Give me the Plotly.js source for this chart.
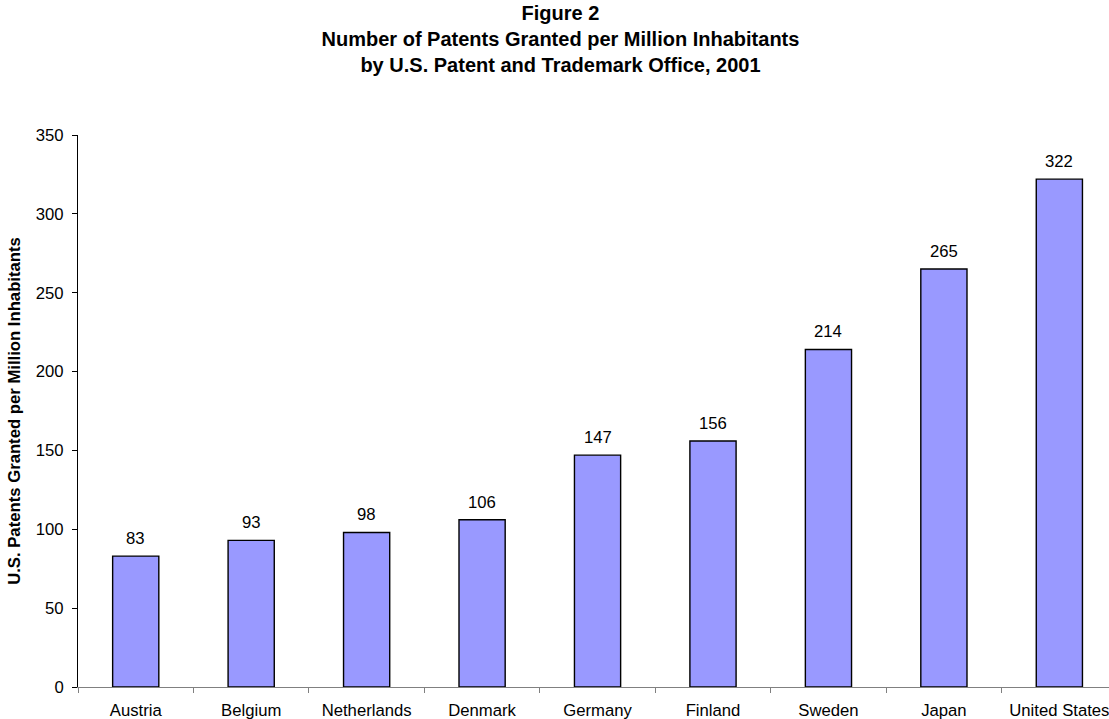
<!DOCTYPE html>
<html>
<head>
<meta charset="utf-8">
<script src="https://cdn.plot.ly/plotly-3.0.1.min.js"></script>
<style>
  html, body { margin: 0; padding: 0; background: #fff; }
  #chart { width: 1109px; height: 719px; }
</style>
</head>
<body>
<div id="chart"></div>
<script>
// Patents granted per million inhabitants, 2001
const countries = ["Austria", "Belgium", "Netherlands", "Denmark", "Germany",
                   "Finland", "Sweden", "Japan", "United States"];
const patentsPerMillion = [83, 93, 98, 106, 147, 156, 214, 265, 322];
const yTicks = [0, 50, 100, 150, 200, 250, 300, 350];

const FONT = "Liberation Sans, Arial, sans-serif";
const TXT = 16.7;

const bars = {
  type: "bar",
  x: countries,
  y: patentsPerMillion,
  width: 0.4,
  marker: { color: "#9999FF", line: { color: "#000000", width: 1.4 } },
  hoverinfo: "x+y"
};

// Value labels sitting above each bar
const valueLabels = countries.map((c, i) => ({
  x: c,
  y: patentsPerMillion[i],
  xref: "x",
  yref: "y",
  text: String(patentsPerMillion[i]),
  showarrow: false,
  yanchor: "bottom",
  yshift: 6,
  font: { family: FONT, size: TXT, color: "#000" }
}));

const titleLines = [
  "Figure 2",
  "Number of Patents Granted per Million Inhabitants",
  "by U.S. Patent and Trademark Office, 2001"
];

const layout = {
  width: 1109,
  height: 719,
  paper_bgcolor: "#fff",
  plot_bgcolor: "#fff",
  margin: { l: 78, r: 0, t: 135, b: 32 },
  showlegend: false,
  font: { family: FONT, size: TXT, color: "#000" },
  title: {
    text: titleLines.map(s => "<b>" + s + "</b>").join("<br>"),
    font: { family: FONT, size: 20, color: "#000" },
    x: 0.5054,
    xref: "container",
    xanchor: "center",
    y: 0.972,
    yanchor: "top",
    yref: "container"
  },
  xaxis: {
    type: "category",
    range: [-0.5, 8.43],
    showline: true,
    linecolor: "#808080",
    linewidth: 1,
    ticks: "outside",
    tickson: "boundaries",
    ticklen: 5,
    tickcolor: "#808080",
    tickwidth: 1,
    showgrid: false,
    zeroline: false,
    ticklabelstandoff: 8,
    tickfont: { family: FONT, size: TXT, color: "#000" },
    fixedrange: true
  },
  yaxis: {
    range: [0, 350],
    tickvals: yTicks,
    ticktext: yTicks.map(String),
    showline: true,
    linecolor: "#000",
    linewidth: 1,
    ticks: "outside",
    ticklen: 5,
    tickcolor: "#000",
    showgrid: false,
    zeroline: false,
    ticklabelstandoff: 5,
    tickfont: { family: FONT, size: TXT, color: "#000" },
    title: {
      text: "<b>U.S. Patents Granted per Million Inhabitants</b>",
      font: { family: FONT, size: TXT, color: "#000" },
      standoff: 10
    },
    fixedrange: true
  },
  annotations: valueLabels,
  bargap: 0.6
};

Plotly.newPlot("chart", [bars], layout, { displayModeBar: false, staticPlot: true });
</script>
</body>
</html>
